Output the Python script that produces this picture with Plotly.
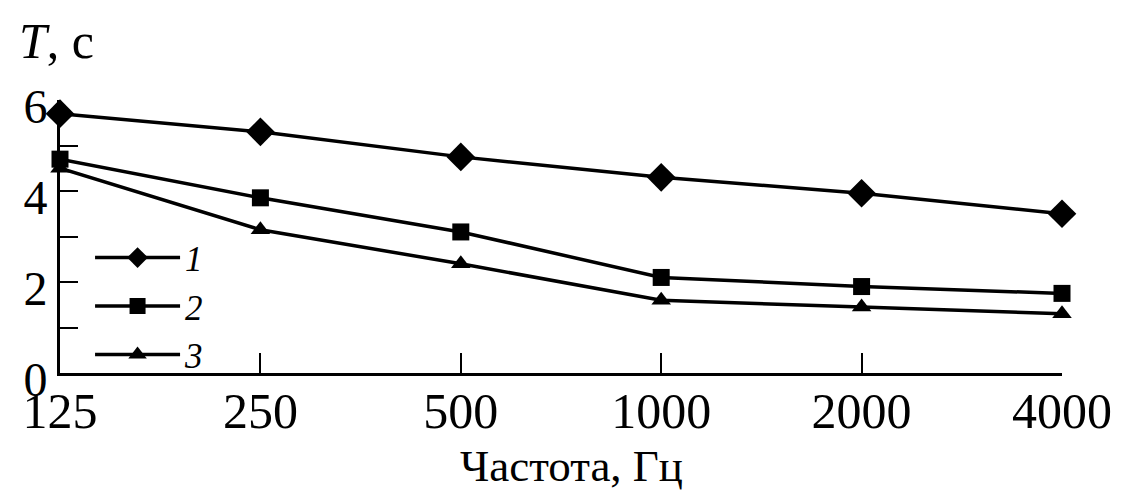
import plotly.graph_objects as go

# Frequency bands (Hz) and reverberation times T (s) for three cases
freqs = ["125", "250", "500", "1000", "2000", "4000"]
t_curve1 = [5.7, 5.3, 4.75, 4.3, 3.95, 3.5]
t_curve2 = [4.7, 3.85, 3.1, 2.1, 1.9, 1.75]
t_curve3 = [4.5, 3.15, 2.4, 1.6, 1.45, 1.3]

y_ticks = [0, 2, 4, 6]

serif = "Liberation Serif, Times New Roman, serif"

fig = go.Figure()
series = [
    ("<i>1</i>", t_curve1, "diamond", 22),
    ("<i>2</i>", t_curve2, "square", 17),
    ("<i>3</i>", t_curve3, "triangle-up", 17),
]
for name, vals, sym, size in series:
    fig.add_trace(go.Scatter(
        x=freqs, y=vals, name=name, mode="lines+markers",
        line=dict(color="black", width=3.5),
        marker=dict(symbol=sym, size=size, color="black"),
        cliponaxis=False,
    ))

fig.update_layout(
    width=1128, height=493,
    margin=dict(l=60, r=66, t=100, b=120),
    paper_bgcolor="white", plot_bgcolor="white",
    font=dict(family=serif, color="black", size=48),
    showlegend=True,
    legend=dict(
        x=0.03, y=0.53, xanchor="left", yanchor="top",
        bgcolor="rgba(0,0,0,0)", itemwidth=85,
        font=dict(family=serif, size=35), tracegroupgap=0,
    ),
    xaxis=dict(
        type="category", range=[0, 5], automargin=False,
        showline=True, linecolor="black", linewidth=3,
        ticks="inside", ticklen=20, tickwidth=2, tickcolor="black",
        showgrid=False, zeroline=False,
        tickfont=dict(family=serif, size=50),
        ticklabelstandoff=-8,
    ),
    yaxis=dict(
        range=[0, 6], tickvals=y_ticks, ticktext=[str(v) for v in y_ticks],
        automargin=False,
        showline=True, linecolor="black", linewidth=3,
        ticks="inside", ticklen=18, tickwidth=2, tickcolor="black",
        minor=dict(dtick=1, ticks="inside", ticklen=18, tickwidth=2, tickcolor="black"),
        showgrid=False, zeroline=False,
        tickfont=dict(family=serif, size=48),
        ticklabelshift=6,
    ),
    annotations=[
        dict(
            text="<i>T</i>, c", xref="paper", yref="paper",
            x=-0.043, y=1.105, xanchor="left", yanchor="bottom",
            showarrow=False, font=dict(family=serif, size=50),
        ),
        dict(
            text="Частота, Гц", xref="paper", yref="paper",
            x=0.51, y=-0.435, xanchor="center", yanchor="bottom",
            showarrow=False, borderpad=0, font=dict(family=serif, size=45),
        ),
    ],
)

fig.write_html("out.html")
